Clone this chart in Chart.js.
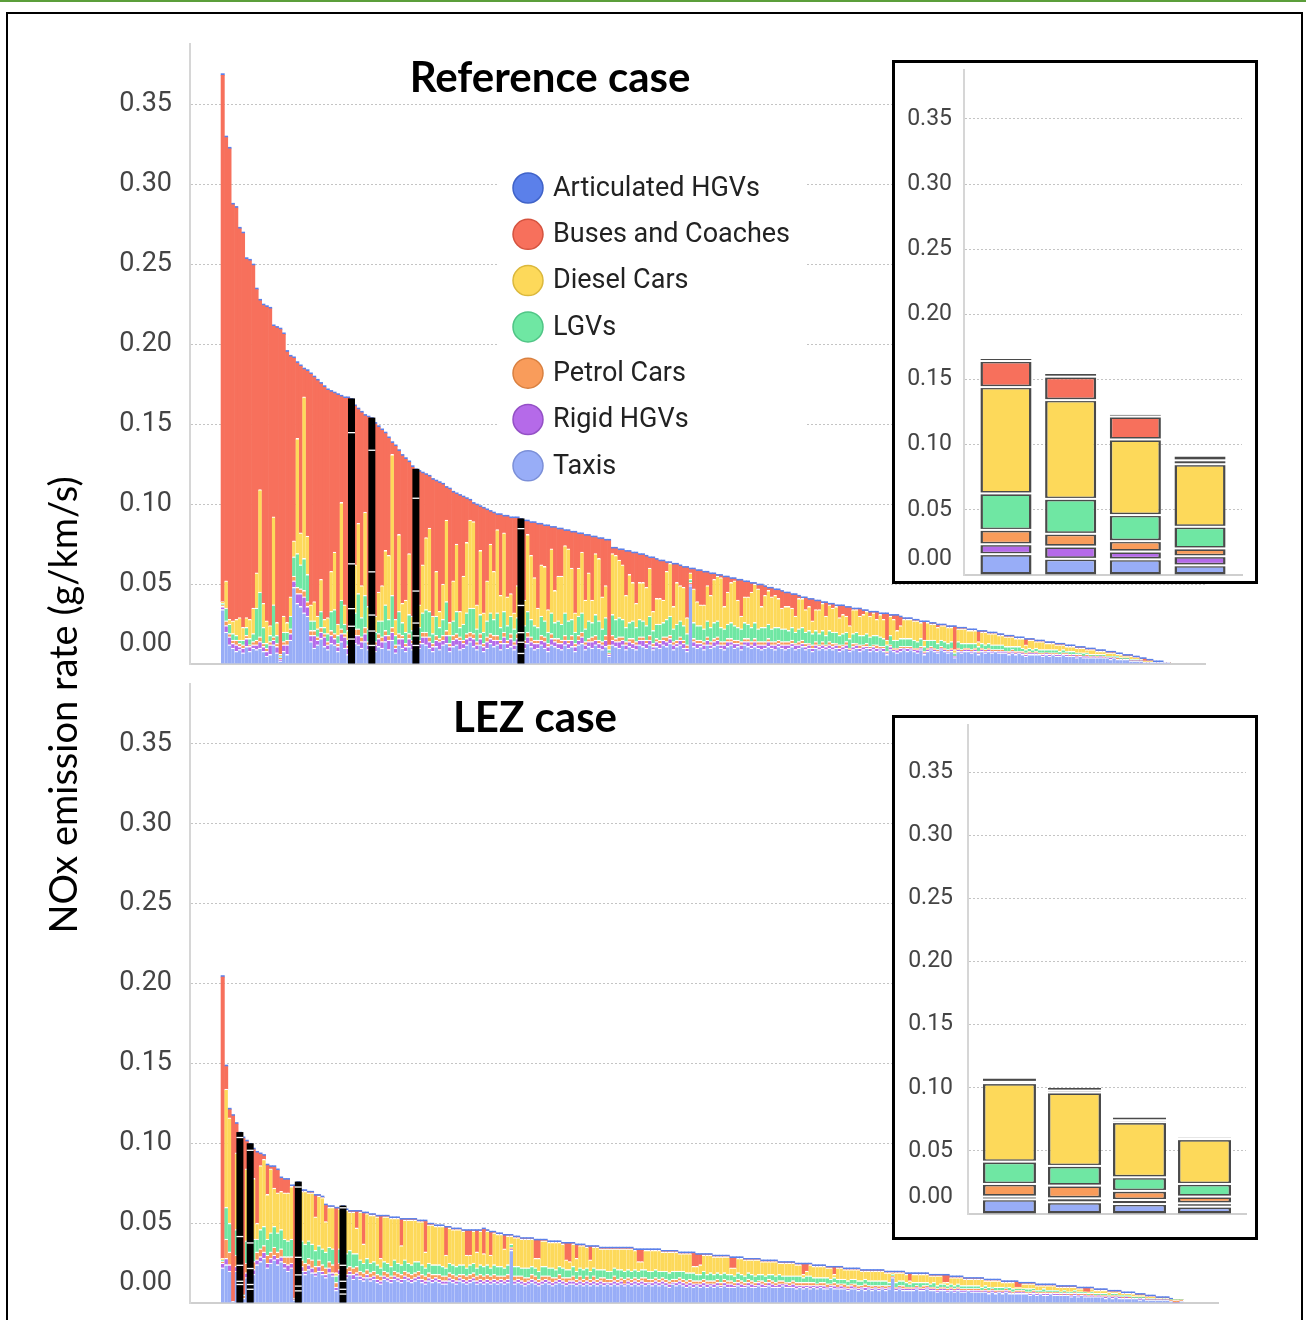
<!DOCTYPE html>
<html>
<head>
<meta charset="utf-8">
<script src="https://cdn.jsdelivr.net/npm/chart.js@4.4.1/dist/chart.umd.min.js"></script>
<style>
html, body { margin: 0; padding: 0; background: #fff; }
body { width: 1306px; height: 1320px; position: relative; overflow: hidden; }
#topline { position: absolute; left: 0; top: 0; width: 1306px; height: 2px; background: #5b9e3a; }
#frame { position: absolute; left: 6px; top: 12px; width: 1293px; height: 1340px; border: 2px solid #000; }
canvas { position: absolute; }
.box { position: absolute; background: #fff; border: 3px solid #000; }
.box canvas { left: 0; top: 0; }
#ytitle { position: absolute; left: -238px; top: 680px; width: 600px; height: 50px; line-height: 50px;
  text-align: center; font-family: Lato, sans-serif; font-size: 38px; color: #000; transform: rotate(-90deg); }
</style>
</head>
<body>
<div id="topline"></div>
<canvas id="refMain" width="1306" height="680" style="left:0;top:0"></canvas>
<canvas id="lezMain" width="1306" height="640" style="left:0;top:680px"></canvas>
<div class="box" style="left:892px;top:60px;width:360px;height:518px"><canvas id="refInset" width="360" height="518"></canvas></div>
<div class="box" style="left:892px;top:715px;width:360px;height:519px"><canvas id="lezInset" width="360" height="519"></canvas></div>
<div id="ytitle">NOx emission rate (g/km/s)</div>
<div id="frame"></div>
<script>
// values in 0.001 g/km/s, one entry per road link, sorted by total

// Reference case
var refTaxis = [
34,20,12,10,8,9,7,11,8,10,9,10,8,5,6,12,7,2,8,6,
15,48,38,36,32,30,14,10,12,16,11,9,13,12,8,14,10,6,16,13,
12,10,14,9,12,8,11,10,14,9,15,7,12,10,8,11,9,12,10,13,
12,10,8,11,9,12,13,8,11,12,9,10,12,14,11,9,12,8,10,13,
11,12,9,13,10,11,9,12,7,10,13,11,9,10,12,10,8,12,11,10,
9,12,10,11,8,12,13,9,11,10,12,10,9,11,5,12,11,10,12,9,
11,10,9,12,11,10,12,9,11,10,12,11,13,9,11,12,10,8,49,11,
10,11,9,12,10,11,12,10,9,11,12,10,11,9,12,11,10,11,10,9,
10,11,10,9,11,10,9,10,11,9,10,11,9,10,8,10,9,10,9,10,
9,10,8,9,10,8,9,10,8,9,10,8,9,8,9,8,6,9,8,7,
8,9,8,9,8,7,9,6,8,9,8,7,9,8,7,8,4,8,7,8,
8,7,8,6,8,7,8,7,8,7,7,7,6,7,6,7,6,5,6,6,
6,6,5,6,5,6,5,5,6,5,5,5,4,5,4,4,4,4,4,4,
4,4,3,4,3,3,3,3,2,2,2,2,1,1,1,1,1,1,1,1];
var refRigid = [
2,4,5,3,4,2,3,5,3,2,3,4,3,3,6,3,4,1,4,6,
4,4,6,8,10,6,4,8,3,4,6,3,5,4,3,5,7,4,8,5,
6,4,5,3,9,4,5,4,4,6,5,3,4,6,3,5,4,6,3,4,
5,4,3,4,5,3,5,3,4,4,6,3,4,3,5,3,4,3,4,3,
4,3,4,4,3,5,3,4,7,3,4,3,4,3,3,4,3,4,3,3,
4,3,3,4,3,3,4,3,3,4,3,3,3,4,1,3,3,4,3,3,
3,3,3,3,4,3,3,2,3,3,3,3,3,3,2,3,3,2,1,3,
3,2,3,3,2,3,3,2,3,3,2,3,2,3,2,3,2,3,2,3,
2,3,2,3,2,2,3,2,2,3,2,2,2,2,2,2,2,2,2,2,
2,2,2,2,2,1,2,2,2,2,1,2,2,2,1,2,1,2,1,2,
2,1,2,1,1,2,1,1,1,1,1,1,1,1,1,1,1,1,1,1,
1,1,1,1,1,1,1,1,0,1,1,1,1,1,1,0,1,1,1,1,
1,0,1,1,1,0,1,1,0,1,0,1,1,0,1,1,0,1,0,1,
0,0,1,0,0,0,0,0,0,0,0,0,0,0,0,0,0,0,0,0];
var refPetrol = [
1,3,2,2,3,2,2,2,1,2,3,3,2,2,2,2,2,1,2,3,
3,3,4,3,4,3,3,3,2,3,2,2,3,3,2,3,2,2,11,4,
4,3,4,2,10,2,3,3,3,3,3,2,3,2,2,3,2,8,2,3,
3,3,2,3,2,3,3,2,3,3,2,2,3,3,3,2,3,2,3,3,
3,3,2,3,2,3,2,3,6,2,3,3,2,2,3,3,2,3,2,3,
2,3,2,3,2,3,3,2,2,3,3,2,2,3,1,3,2,3,2,2,
2,3,2,2,2,2,3,2,2,2,2,3,2,2,2,2,2,2,1,2,
2,2,2,2,2,2,2,2,2,2,2,2,2,2,2,2,2,2,2,2,
2,2,2,2,2,2,2,2,2,1,2,2,2,1,2,2,1,2,1,2,
2,1,2,1,2,1,2,1,2,1,2,1,1,2,1,1,1,1,1,1,
1,1,1,1,1,1,1,1,1,1,1,1,1,1,1,1,0,1,1,1,
1,1,1,1,1,1,1,1,1,1,1,0,1,1,1,1,1,1,1,0,
1,1,1,0,1,1,1,0,1,1,1,0,1,1,0,1,1,0,1,0,
1,0,0,0,1,0,0,0,0,0,0,0,0,0,0,0,0,0,0,0];
var refLGV = [
1,8,6,4,3,2,3,5,4,5,20,28,10,3,4,20,5,1,6,5,
8,12,21,15,20,17,6,6,5,10,4,5,12,15,5,18,6,3,28,10,
22,12,20,8,27,6,8,10,16,10,20,6,14,8,7,12,6,20,8,12,
14,16,6,12,7,10,18,5,9,14,6,10,13,15,16,8,12,7,10,13,
10,14,8,13,9,11,8,10,17,9,13,11,9,8,12,10,7,13,10,11,
10,14,12,10,7,12,12,8,11,9,13,12,8,11,2,13,12,12,11,9,
10,11,9,11,10,9,12,8,9,10,9,11,12,8,10,10,9,7,2,10,
9,9,8,10,9,10,10,9,8,9,10,9,8,8,10,9,9,10,8,9,
9,9,8,9,8,8,8,7,8,7,8,8,7,8,7,7,7,7,6,7,
7,7,6,7,6,6,6,7,6,6,6,6,6,6,6,5,4,6,5,5,
5,5,5,5,5,4,5,3,5,4,5,4,4,4,4,4,2,4,4,3,
3,4,3,3,3,3,3,3,3,3,3,3,3,2,3,3,2,2,2,2,
2,2,2,2,2,2,2,2,2,1,2,2,1,1,2,1,1,1,1,1,
1,1,1,1,1,1,1,1,1,1,1,0,0,0,0,0,0,0,0,0];
var refDiesel = [
1,17,3,8,10,14,8,6,12,16,22,64,15,14,6,55,8,1,10,6,
12,10,72,20,101,24,10,12,8,20,5,10,25,36,7,61,12,6,82,30,
44,20,52,14,76,10,18,22,34,40,88,10,48,12,20,38,9,58,14,30,
45,52,11,28,10,22,51,8,25,42,10,30,44,55,54,15,40,12,25,43,
30,52,20,49,18,14,10,20,48,16,48,40,30,12,32,34,14,40,20,28,
30,42,45,32,12,30,38,18,30,14,38,39,20,20,3,38,40,36,34,20,
30,24,15,23,24,24,30,12,16,16,14,30,33,14,26,22,24,10,4,21,
15,13,15,22,20,27,28,31,14,20,25,28,17,8,16,17,22,24,25,13,
20,21,20,20,18,13,14,15,12,10,19,18,14,15,8,13,15,17,12,16,
15,16,11,12,10,8,15,14,12,13,14,13,14,10,14,12,3,12,13,6,
8,12,12,12,12,13,10,4,11,10,10,10,9,10,10,9,2,8,9,9,
8,8,8,3,7,8,6,7,7,6,6,6,6,6,5,5,6,3,5,6,
4,5,5,4,4,4,3,4,3,3,3,3,3,3,3,2,3,3,2,2,
2,2,2,2,1,2,1,1,2,1,1,1,1,1,1,0,0,0,0,0];
var refBus = [
329,277,294,260,257,243,246,224,224,214,177,118,186,196,198,119,184,203,176,169,
150,114,47,104,17,103,144,140,147,122,145,142,112,99,143,66,129,145,20,99,
71,108,60,118,18,120,103,97,73,73,7,108,52,92,88,57,93,17,83,57,
39,32,85,56,80,62,20,83,55,31,72,49,27,12,11,62,27,65,44,20,
36,9,50,10,50,47,59,42,3,49,8,20,34,52,25,25,52,13,39,29,
29,9,11,22,50,21,11,40,23,39,10,12,36,28,65,3,4,6,9,27,
14,18,31,17,17,19,6,33,24,23,24,5,0,26,11,12,12,31,2,12,
19,21,20,8,13,3,0,1,18,9,2,1,12,22,9,9,5,0,2,13,
5,1,5,3,5,10,8,8,8,13,1,0,7,4,13,5,5,0,8,0,
2,0,7,5,5,11,0,0,4,2,0,2,0,4,0,3,16,0,2,9,
5,0,0,0,0,0,0,11,0,0,0,1,0,0,0,0,14,0,0,0,
0,0,0,6,0,0,0,0,0,0,0,0,0,0,0,0,0,3,0,0,
0,0,0,0,0,0,0,0,0,0,0,0,0,0,0,0,0,0,0,0,
0,0,0,0,0,0,0,0,0,0,0,0,1,0,0,0,0,0,0,0];
var refArtic = [
1,1,1,1,1,1,1,1,1,1,1,1,1,1,1,1,1,1,1,1,
1,1,1,1,1,1,1,1,1,1,1,1,1,1,1,1,1,1,1,1,
1,1,1,1,2,1,1,1,1,1,1,1,1,1,1,1,1,1,1,1,
1,1,1,1,1,1,1,1,1,1,1,1,1,1,1,1,1,1,1,1,
1,1,1,1,1,1,1,1,3,1,1,1,1,1,1,1,1,1,1,1,
1,1,1,1,1,1,1,1,1,1,1,1,1,1,1,1,1,1,1,1,
1,1,1,1,1,1,1,1,1,1,1,1,1,1,1,1,1,1,1,1,
1,1,1,1,1,1,1,1,1,1,1,1,1,1,1,1,1,1,1,1,
1,1,1,1,1,1,1,1,1,1,1,1,1,1,1,1,1,1,1,1,
1,1,1,1,1,1,1,1,1,1,1,1,1,1,1,1,1,1,1,1,
1,1,1,1,1,1,1,1,1,1,1,1,1,1,1,1,1,1,1,1,
1,1,1,1,1,1,1,1,1,1,1,1,1,1,1,1,1,1,1,1,
1,1,1,1,1,1,1,1,1,1,1,1,1,1,1,1,1,1,1,1,
1,1,1,1,1,1,1,1,1,1,1,1,1,1,1,1,1,1,0,0];
var refHighlight = [38, 44, 57, 88];

// LEZ case
var lezTaxis = [
22,24,20,1,20,12,3,16,9,18,24,26,28,22,25,27,24,26,22,20,
22,2,8,20,18,21,19,17,20,18,16,19,17,8,18,6,16,18,15,17,
15,14,16,14,15,13,12,15,14,13,15,14,13,15,14,13,14,15,13,12,
14,13,14,13,12,12,14,13,12,14,13,12,13,14,12,13,12,13,12,13,
12,13,12,13,33,12,13,12,11,12,13,12,11,12,13,12,11,12,13,12,
11,12,12,11,12,11,12,11,12,11,12,11,12,11,12,11,12,11,12,11,
12,11,12,11,12,11,12,11,12,11,10,12,11,12,11,10,11,10,11,10,
11,10,11,10,11,10,11,10,10,10,11,10,10,11,10,10,11,10,10,11,
10,10,10,11,10,10,10,9,10,9,10,9,10,9,10,9,9,10,9,9,
9,9,8,9,9,8,9,8,9,8,9,8,9,8,9,16,8,9,8,8,
8,8,9,8,8,9,8,8,7,8,8,7,8,7,8,7,7,8,7,7,
7,7,7,6,7,6,7,6,7,6,6,6,6,6,6,5,6,5,6,5,
5,6,5,5,5,5,5,4,5,4,5,4,4,4,4,4,4,3,4,3,
4,3,3,3,3,3,3,2,3,2,2,2,2,2,2,2,1,0,0,1];
var lezRigid = [
3,4,4,0,3,2,0,3,3,3,3,3,4,3,3,3,4,3,3,4,
3,0,3,3,2,3,3,2,3,2,2,3,2,2,3,3,2,2,3,2,
2,2,2,2,2,2,2,2,2,2,2,2,2,2,2,2,2,2,2,2,
2,2,2,2,2,2,2,2,2,2,2,2,2,2,2,2,2,2,2,2,
2,2,2,2,1,2,2,2,2,2,2,2,2,2,2,2,2,2,2,2,
2,2,2,2,2,2,2,2,2,2,2,2,1,2,2,2,2,1,2,2,
2,2,2,2,1,2,2,2,2,2,2,1,2,2,2,2,2,2,1,2,
2,2,1,2,2,1,2,2,2,1,2,2,1,2,2,1,2,2,1,2,
2,1,2,1,2,1,2,2,1,2,1,2,1,2,1,2,1,1,2,1,
2,1,1,2,1,1,1,2,1,1,1,1,1,1,1,0,1,1,1,1,
1,1,1,1,1,1,1,1,1,1,1,1,1,1,1,1,1,0,1,1,
1,0,1,1,1,1,0,1,1,1,0,1,1,1,0,1,1,1,0,1,
1,0,1,1,0,1,0,1,1,1,0,1,0,1,0,1,0,1,0,1,
0,1,0,1,0,0,0,1,0,0,0,0,0,0,0,0,0,0,0,0];
var lezPetrol = [
1,12,8,0,7,10,2,6,10,5,5,5,4,5,4,5,4,5,4,5,
4,1,7,4,5,4,5,4,4,4,4,4,5,3,4,5,4,3,4,4,
3,3,3,3,3,3,3,3,3,2,3,3,3,3,3,3,3,3,3,3,
3,3,2,3,3,3,3,3,3,2,3,3,3,3,3,3,3,3,3,3,
3,2,3,3,1,3,2,3,3,2,3,3,2,3,2,3,3,2,3,2,
3,2,3,2,3,2,3,2,3,2,2,3,2,2,3,2,2,3,2,2,
2,2,2,3,2,2,2,2,2,2,2,2,2,2,2,2,2,2,2,2,
2,2,2,2,2,2,2,2,2,2,2,2,2,2,2,2,1,2,2,2,
2,2,2,2,1,2,2,2,2,2,2,2,2,1,2,2,2,1,2,2,
1,2,2,1,2,2,1,2,1,2,1,2,1,2,1,1,1,1,2,1,
1,1,1,1,2,1,1,1,1,1,1,1,1,1,1,1,1,1,1,1,
1,1,1,1,1,1,1,1,1,1,1,1,1,1,1,1,1,1,1,1,
1,1,1,1,1,1,1,1,1,1,1,1,1,1,1,0,1,1,0,1,
1,0,1,0,1,0,0,0,0,1,0,0,0,0,0,0,1,2,2,1];
var lezLGV = [
1,20,18,0,16,18,0,14,16,14,8,12,12,10,12,13,12,12,11,10,
11,0,11,12,12,11,10,10,9,10,10,9,10,4,9,10,9,10,9,8,
7,6,7,6,6,6,5,6,6,6,7,6,6,7,6,6,7,6,6,5,
6,6,6,6,6,5,6,6,6,6,6,5,6,6,5,6,6,6,5,6,
6,6,5,6,2,6,6,5,6,6,5,5,5,6,6,5,6,5,5,6,
5,5,6,5,5,6,5,5,5,6,5,5,5,5,5,6,5,5,5,5,
5,5,5,5,5,5,5,5,4,5,5,5,5,4,5,5,4,5,4,4,
5,4,5,4,4,5,4,4,4,4,4,4,4,4,4,4,4,4,4,3,
4,4,4,3,4,4,3,4,4,3,4,4,3,4,3,3,4,3,3,3,
3,3,3,3,3,3,3,3,3,3,3,3,3,3,2,1,3,3,3,3,
2,3,2,3,2,2,2,3,2,2,2,2,2,2,2,2,2,2,2,2,
2,2,2,2,1,2,2,2,1,2,2,1,1,1,2,2,1,1,1,2,
1,1,1,1,1,1,1,1,1,1,1,1,1,1,1,1,1,1,1,1,
1,1,1,1,1,1,1,1,1,0,1,1,0,0,1,0,0,0,0,0];
var lezDiesel = [
1,74,66,0,48,62,0,45,58,38,10,40,42,28,40,24,25,24,29,30,
33,0,44,31,33,30,32,21,31,32,19,25,26,2,25,36,27,24,26,16,
30,12,28,30,29,30,6,28,29,30,26,28,12,25,27,28,26,25,27,10,
24,25,24,24,25,8,22,22,23,22,21,8,6,20,10,21,8,21,8,20,
20,20,12,18,5,18,18,18,18,18,17,6,8,16,16,16,16,17,15,15,
6,5,14,8,14,15,13,7,13,14,13,13,14,14,12,13,13,14,13,14,
12,6,5,12,13,13,12,13,12,12,13,12,12,11,11,12,12,4,5,6,
10,12,11,11,10,11,10,11,4,5,9,10,10,8,9,10,9,8,9,8,
8,9,7,8,8,8,8,7,7,2,3,7,7,7,7,7,6,7,2,7,
7,6,7,6,6,7,6,5,6,6,6,6,6,5,6,1,6,5,5,5,
2,5,5,5,5,5,5,4,6,5,1,2,4,5,4,5,4,4,4,4,
4,5,3,4,4,4,4,3,3,3,4,1,1,3,3,3,3,3,3,2,
3,3,3,2,3,2,3,3,2,2,2,0,1,2,2,2,2,2,2,1,
1,2,1,1,1,2,1,1,1,1,1,1,1,1,0,1,0,0,0,0];
var lezBus = [
176,14,5,116,18,1,98,17,2,18,44,7,2,18,1,13,14,8,8,8,
0,70,1,0,0,0,0,13,0,0,10,0,0,40,0,0,0,0,0,10,
0,19,0,0,0,0,26,0,0,0,0,0,16,0,0,0,0,0,0,19,
0,0,0,0,0,17,0,0,0,0,0,15,15,0,13,0,15,0,14,0,
0,0,8,0,0,0,0,0,0,0,0,11,11,0,0,0,0,0,0,0,
10,11,0,8,0,0,0,8,0,0,0,0,0,0,0,0,0,0,0,0,
0,7,7,0,0,0,0,0,0,0,0,0,0,0,0,0,0,8,7,6,
0,0,0,0,0,0,0,0,6,6,0,0,0,0,0,0,0,0,0,0,
0,0,0,0,0,0,0,0,0,6,4,0,0,0,0,0,0,0,4,0,
0,0,0,0,0,0,0,0,0,0,0,0,0,0,0,0,0,0,0,0,
4,0,0,0,0,0,0,0,0,0,4,4,0,0,0,0,0,0,0,0,
0,0,0,0,0,0,0,0,0,0,0,3,2,0,0,0,0,0,0,0,
0,0,0,0,0,0,0,0,0,0,0,2,2,0,0,0,0,0,0,0,
0,0,0,0,0,0,0,0,0,0,0,0,0,0,0,0,0,0,0,0];
var lezArtic = [
1,1,1,1,1,2,1,1,2,1,1,1,1,1,1,1,1,1,1,1,
1,1,2,1,1,1,1,1,1,1,1,1,1,1,1,1,1,1,1,1,
1,1,1,1,1,1,1,1,1,1,1,1,1,1,1,1,1,1,1,1,
1,1,1,1,1,1,1,1,1,1,1,1,1,1,1,1,1,1,1,1,
1,1,1,1,1,1,1,1,1,1,1,1,1,1,1,1,1,1,1,1,
1,1,1,1,1,1,1,1,1,1,1,1,1,1,1,1,1,1,1,1,
1,1,1,1,1,1,1,1,1,1,1,1,1,1,1,1,1,1,1,1,
1,1,1,1,1,1,1,1,1,1,1,1,1,1,1,1,1,1,1,1,
1,1,1,1,1,1,1,1,1,1,1,1,1,1,1,1,1,1,1,1,
1,1,1,1,1,1,1,1,1,1,1,1,1,1,1,1,1,1,1,1,
1,1,1,1,1,1,1,1,1,1,1,1,1,1,1,1,1,1,1,1,
1,1,1,1,1,1,1,1,1,1,1,1,1,1,1,1,1,1,1,1,
1,1,1,1,1,1,1,1,1,1,1,1,1,1,1,1,1,1,1,1,
1,1,1,1,1,1,1,1,1,1,1,1,1,1,1,1,1,0,0,0];
var lezHighlight = [5, 8, 22, 35];

// inset: the four highlighted links
var refInsetTaxis  = [16, 12.4, 12, 7.4];
var refInsetRigid  = [7.6, 9.4, 6, 7];
var refInsetPetrol = [11, 9.8, 8, 6];
var refInsetLGV    = [28, 26.8, 20, 16.6];
var refInsetDiesel = [81.6, 75.8, 58, 48];
var refInsetBus    = [20, 18, 17.6, 3];
var refInsetArtic  = [1.5, 2, 1.4, 3];

var lezInsetTaxis  = [11.6, 9.3, 7.9, 5.8];
var lezInsetRigid  = [2.2, 3.1, 3.2, 2.7];
var lezInsetPetrol = [10, 10.1, 7.2, 5.3];
var lezInsetLGV    = [17.7, 15.6, 10.8, 10];
var lezInsetDiesel = [62.2, 58.2, 43.7, 35.5];
var lezInsetBus    = [1, 1.5, 1.5, 0.5];
var lezInsetArtic  = [2.7, 2, 2.2, 0.8];

var yTicks = [0, 0.05, 0.10, 0.15, 0.20, 0.25, 0.30, 0.35];

// stacking order, bottom to top
var SERIES = [
  { name: "Taxis",             color: "#98adf7", line: "#7b8fd8" },
  { name: "Rigid HGVs",        color: "#b56ae9", line: "#9450c6" },
  { name: "Petrol Cars",       color: "#f99c5b", line: "#d98040" },
  { name: "LGVs",              color: "#6fe7a3", line: "#4fc585" },
  { name: "Diesel Cars",       color: "#fdd95a", line: "#dbb83c" },
  { name: "Buses and Coaches", color: "#f7705c", line: "#d5533f" },
  { name: "Articulated HGVs",  color: "#5b80ea", line: "#3f62c8" }
];
var legendOrder = ["Articulated HGVs", "Buses and Coaches", "Diesel Cars", "LGVs", "Petrol Cars", "Rigid HGVs", "Taxis"];

// ---- plugins ----
var yLabels = {
  id: "ylab",
  afterDraw: function(chart, args, o) {
    var s = chart.scales.y, ctx = chart.ctx;
    ctx.save();
    ctx.font = o.font;
    ctx.fillStyle = o.color;
    ctx.textAlign = "right";
    ctx.textBaseline = "middle";
    s.ticks.forEach(function(t) {
      var y = s.getPixelForValue(t.value);
      if (t.value === 0) y -= o.lift;
      ctx.fillText(t.value.toFixed(2), chart.chartArea.left - o.gap, y);
    });
    ctx.restore();
  }
};

var highlight = {
  id: "highlight",
  afterDatasetsDraw: function(chart, args, o) {
    var ctx = chart.ctx;
    ctx.save();
    o.indices.forEach(function(i) {
      var els = chart.data.datasets.map(function(d, k) { return chart.getDatasetMeta(k).data[i]; });
      var top = Math.min.apply(null, els.map(function(e) { return e.y; }));
      var x = els[0].x, base = els[0].base, w = o.width;
      ctx.fillStyle = "#000";
      ctx.fillRect(x - w / 2, top, w, base - top);
      ctx.fillStyle = "#fff";
      els.slice(0, 5).forEach(function(e) {
        if (e.base - e.y > 2) ctx.fillRect(x - w / 2, e.y, w, 1.3);
      });
    });
    ctx.restore();
  }
};

var panelText = {
  id: "panelText",
  afterDraw: function(chart, args, o) {
    var ctx = chart.ctx;
    ctx.save();
    ctx.fillStyle = "#000";
    ctx.font = "bold 42px Lato";
    ctx.textAlign = "center";
    ctx.textBaseline = "alphabetic";
    ctx.fillText(o.title, o.titleX, o.titleY);
    if (o.legend) {
      var L = o.legend;
      ctx.fillStyle = "#fff";
      ctx.fillRect(L.box[0], L.box[1], L.box[2], L.box[3]);
      legendOrder.forEach(function(name, k) {
        var s = SERIES.filter(function(q) { return q.name === name; })[0];
        var cy = L.y + k * L.step;
        ctx.beginPath();
        ctx.arc(L.x, cy, L.r, 0, Math.PI * 2);
        ctx.fillStyle = s.color;
        ctx.fill();
        ctx.lineWidth = 1.5;
        ctx.strokeStyle = s.line;
        ctx.stroke();
        ctx.fillStyle = "#222";
        ctx.font = L.font;
        ctx.textAlign = "left";
        ctx.textBaseline = "middle";
        ctx.fillText(name, L.textX, cy + 1);
      });
    }
    ctx.restore();
  }
};

var insetGaps = {
  id: "insetGaps",
  afterDatasetsDraw: function(chart) {
    var ctx = chart.ctx;
    ctx.save();
    ctx.fillStyle = "#fff";
    for (var k = 1; k < chart.data.datasets.length; k++) {
      chart.getDatasetMeta(k).data.forEach(function(e) {
        ctx.fillRect(e.x - e.width / 2 - 2, e.base - 1, e.width + 4, 2);
      });
    }
    ctx.restore();
  }
};

// ---- builders ----
function mainSets(cols) {
  return SERIES.map(function(s, k) {
    return {
      label: s.name,
      data: cols[k].map(function(v) { return v / 1000; }),
      backgroundColor: s.color,
      borderColor: "#ffffff",
      borderWidth: k < 5 ? { top: 1.3, right: 0, bottom: 0, left: 0 } : 0,
      inflateAmount: 0.3,
      barPercentage: 1,
      categoryPercentage: 1
    };
  });
}

function insetSets(cols, pct) {
  return SERIES.map(function(s, k) {
    return {
      label: s.name,
      data: cols[k].map(function(v) { return v / 1000; }),
      backgroundColor: s.color,
      borderColor: "#4a4a4a",
      borderWidth: 2.5,
      borderSkipped: false,
      inflateAmount: 0,
      barPercentage: pct,
      categoryPercentage: 1
    };
  });
}

function baseOptions(pad, axisW, xMin, xMax, ylab) {
  return {
    responsive: false,
    animation: false,
    devicePixelRatio: 1,
    layout: { padding: pad },
    plugins: { legend: { display: false }, tooltip: { enabled: false }, ylab: ylab },
    scales: {
      x: {
        type: "linear", stacked: true, min: xMin, max: xMax, offset: false,
        grid: { display: false }, ticks: { display: false },
        border: { display: true, color: "#cfcfcf", width: 2 },
        afterFit: function(s) { s.height = 0; }
      },
      y: {
        stacked: true, min: 0, max: 0.3875,
        afterBuildTicks: function(s) { s.ticks = yTicks.map(function(v) { return { value: v }; }); },
        ticks: { display: false },
        grid: { color: "#c4c4c4", lineWidth: 1, drawTicks: false },
        border: { display: true, color: "#d6d6d6", width: 2, dash: [2, 2] },
        afterFit: function(s) { s.width = axisW; }
      }
    }
  };
}

function siteIndex(arr) { return arr.map(function(v, i) { return i; }); }

// ---- reference case ----
var refOpts = baseOptions({ left: 0, right: 101, top: 44, bottom: 16 }, 190, -9.65, 289.83,
  { font: "27px Roboto", color: "#444", gap: 18, lift: 20 });
refOpts.plugins.highlight = { indices: refHighlight, width: 7 };
refOpts.plugins.panelText = {
  title: "Reference case", titleX: 550, titleY: 92,
  legend: { box: [497, 163, 309, 327], x: 528, y: 188, step: 46.3, r: 15, textX: 553, font: "27px Roboto" }
};
new Chart(document.getElementById("refMain"), {
  type: "bar",
  data: { labels: siteIndex(refTaxis), datasets: mainSets([refTaxis, refRigid, refPetrol, refLGV, refDiesel, refBus, refArtic]) },
  options: refOpts,
  plugins: [yLabels, highlight, panelText]
});

// ---- LEZ case ----
var lezOpts = baseOptions({ left: 0, right: 88, top: 4, bottom: 17 }, 190, -9.52, 289.69,
  { font: "27px Roboto", color: "#444", gap: 18, lift: 20 });
lezOpts.plugins.highlight = { indices: lezHighlight, width: 7 };
lezOpts.plugins.panelText = { title: "LEZ case", titleX: 535, titleY: 52 };
new Chart(document.getElementById("lezMain"), {
  type: "bar",
  data: { labels: siteIndex(lezTaxis), datasets: mainSets([lezTaxis, lezRigid, lezPetrol, lezLGV, lezDiesel, lezBus, lezArtic]) },
  options: lezOpts,
  plugins: [yLabels, highlight, panelText]
});

// ---- insets ----
new Chart(document.getElementById("refInset"), {
  type: "bar",
  data: { labels: siteIndex(refInsetTaxis),
    datasets: insetSets([refInsetTaxis, refInsetRigid, refInsetPetrol, refInsetLGV, refInsetDiesel, refInsetBus, refInsetArtic], 0.79) },
  options: baseOptions({ left: 0, right: 13, top: 7, bottom: 6 }, 69, -0.649, 3.649,
    { font: "23px Roboto", color: "#444", gap: 12, lift: 16 }),
  plugins: [yLabels, insetGaps]
});
new Chart(document.getElementById("lezInset"), {
  type: "bar",
  data: { labels: siteIndex(lezInsetTaxis),
    datasets: insetSets([lezInsetTaxis, lezInsetRigid, lezInsetPetrol, lezInsetLGV, lezInsetDiesel, lezInsetBus, lezInsetArtic], 0.815) },
  options: baseOptions({ left: 0, right: 9, top: 7, bottom: 23 }, 73, -0.638, 3.638,
    { font: "23px Roboto", color: "#444", gap: 15, lift: 17 }),
  plugins: [yLabels, insetGaps]
});
</script>
</body>
</html>
